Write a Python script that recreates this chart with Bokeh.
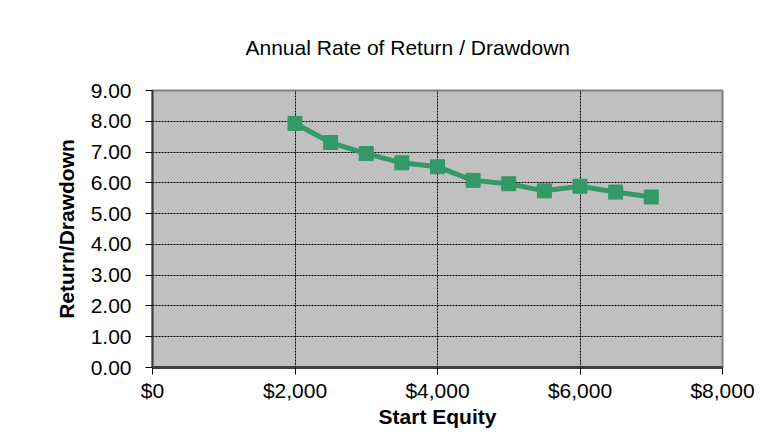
from bokeh.plotting import figure
from bokeh.models import (Range1d, FixedTicker, NumeralTickFormatter, ColumnDataSource, Title)
from bokeh.embed import file_html
from bokeh.resources import INLINE

# ---- data ----
start_equity = [2000, 2500, 3000, 3500, 4000, 4500, 5000, 5500, 6000, 6500, 7000]
return_drawdown = [7.93, 7.31, 6.95, 6.65, 6.52, 6.08, 5.97, 5.74, 5.89, 5.70, 5.54]
x_ticks = [0, 2000, 4000, 6000, 8000]
y_ticks = [0, 1, 2, 3, 4, 5, 6, 7, 8, 9]
title_text = "Annual Rate of Return / Drawdown"
x_title = "Start Equity"
y_title = "Return/Drawdown"

FONT = "Liberation Sans"
GREEN = "#339966"

p = figure(width=760, height=430, output_backend="svg", toolbar_location=None,
           x_range=Range1d(0, 8000), y_range=Range1d(0, 9),
           min_border_left=152, min_border_right=38, min_border_top=90,
           min_border_bottom=60, title=None)

p.background_fill_color = "#c0c0c0"
p.border_fill_color = "white"
p.outline_line_color = "#808080"
p.outline_line_width = 2

t = Title(text=title_text, text_font=FONT, text_font_size="21px",
          text_font_style="normal", text_color="black", align="left",
          offset=93, standoff=63)
p.add_layout(t, "above")

# axes
for ax in (p.xaxis[0], p.yaxis[0]):
    ax.major_tick_in = 0
    ax.major_tick_out = 7
    ax.minor_tick_in = 0
    ax.minor_tick_out = 0
    ax.major_tick_line_color = "black"
    ax.major_label_text_font = FONT
    ax.major_label_text_font_size = "21px"
    ax.major_label_text_color = "black"
    ax.axis_label_text_font = FONT
    ax.axis_label_text_font_size = "21px"
    ax.axis_label_text_font_style = "bold"
    ax.axis_label_text_color = "black"

p.xaxis[0].ticker = FixedTicker(ticks=x_ticks)
p.xaxis[0].formatter = NumeralTickFormatter(format="$0,0")
p.xaxis[0].axis_line_color = "#404040"
p.xaxis[0].axis_line_width = 3
p.xaxis[0].major_label_standoff = 4
p.xaxis[0].axis_label = x_title
p.xaxis[0].axis_label_standoff = 0

p.yaxis[0].ticker = FixedTicker(ticks=y_ticks)
p.yaxis[0].formatter = NumeralTickFormatter(format="0.00")
p.yaxis[0].axis_line_color = "#404040"
p.yaxis[0].axis_line_width = 2
p.yaxis[0].major_label_standoff = 14
p.yaxis[0].axis_label = y_title
p.yaxis[0].axis_label_standoff = 10

# grids
p.xgrid[0].ticker = FixedTicker(ticks=x_ticks)
p.ygrid[0].ticker = FixedTicker(ticks=y_ticks)
for g in (p.xgrid[0], p.ygrid[0]):
    g.grid_line_color = "black"
    g.grid_line_dash = "2 1"
    g.grid_line_width = 1

# series
src = ColumnDataSource(dict(x=start_equity, y=return_drawdown))
p.line("x", "y", source=src, line_color=GREEN, line_width=5)
p.scatter("x", "y", source=src, marker="square", size=14,
          fill_color=GREEN, line_color=GREEN)

open("out.html", "w").write(file_html(p, INLINE))
